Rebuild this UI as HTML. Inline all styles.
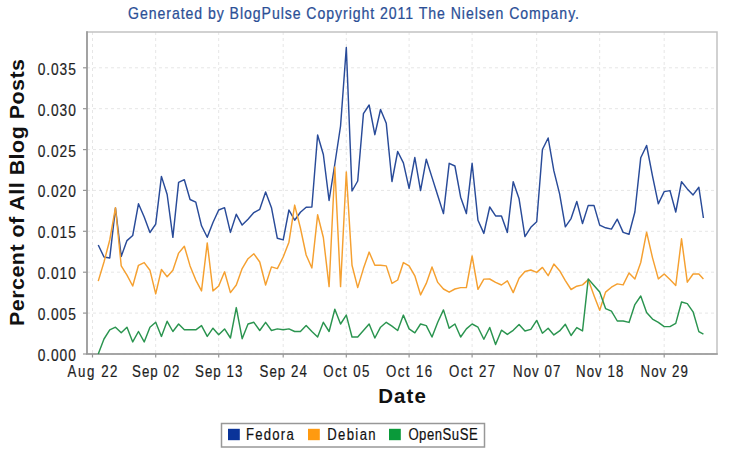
<!DOCTYPE html>
<html><head><meta charset="utf-8"><style>
html,body{margin:0;padding:0;background:#fff;width:734px;height:456px;overflow:hidden}
svg{display:block}
.g{stroke:#e6e6e6;stroke-width:1;stroke-dasharray:3 3;fill:none}
.s{fill:none;stroke-width:1.45;stroke-linejoin:round;stroke-linecap:butt}
text{font-family:"Liberation Sans",sans-serif}
.t{font-size:16px;fill:#1e1e1e;stroke:#1e1e1e;stroke-width:0.2}
.title{font-size:16px;fill:#2b4f96;stroke:#2b4f96;stroke-width:0.25}
.al{font-size:19.5px;font-weight:bold;fill:#111}
.lg{font-size:16px;fill:#111;stroke:#111;stroke-width:0.2}
</style></head><body>
<svg width="734" height="456" viewBox="0 0 734 456">
<line x1="87.0" y1="354.0" x2="717.0" y2="354.0" class="g"/>
<line x1="87.0" y1="313.1" x2="717.0" y2="313.1" class="g"/>
<line x1="87.0" y1="272.2" x2="717.0" y2="272.2" class="g"/>
<line x1="87.0" y1="231.3" x2="717.0" y2="231.3" class="g"/>
<line x1="87.0" y1="190.4" x2="717.0" y2="190.4" class="g"/>
<line x1="87.0" y1="149.6" x2="717.0" y2="149.6" class="g"/>
<line x1="87.0" y1="108.7" x2="717.0" y2="108.7" class="g"/>
<line x1="87.0" y1="67.8" x2="717.0" y2="67.8" class="g"/>
<line x1="92.5" y1="32.0" x2="92.5" y2="354.0" class="g"/>
<line x1="155.7" y1="32.0" x2="155.7" y2="354.0" class="g"/>
<line x1="218.7" y1="32.0" x2="218.7" y2="354.0" class="g"/>
<line x1="283.2" y1="32.0" x2="283.2" y2="354.0" class="g"/>
<line x1="346.3" y1="32.0" x2="346.3" y2="354.0" class="g"/>
<line x1="409.1" y1="32.0" x2="409.1" y2="354.0" class="g"/>
<line x1="472.1" y1="32.0" x2="472.1" y2="354.0" class="g"/>
<line x1="536.7" y1="32.0" x2="536.7" y2="354.0" class="g"/>
<line x1="599.7" y1="32.0" x2="599.7" y2="354.0" class="g"/>
<line x1="664.2" y1="32.0" x2="664.2" y2="354.0" class="g"/>
<rect x="87.0" y="32.0" width="630.0" height="322.0" fill="none" stroke="#c2c2c2" stroke-width="1.5"/>
<line x1="87.0" y1="31.25" x2="87.0" y2="354.0" stroke="#979797" stroke-width="1.6"/>
<line x1="86.2" y1="354.0" x2="717.75" y2="354.0" stroke="#979797" stroke-width="1.6"/>
<line x1="83" y1="354.0" x2="87.0" y2="354.0" stroke="#979797" stroke-width="1.2"/>
<text transform="scale(0.86,1)" x="43.95" y="361.0" class="t" textLength="44.19" lengthAdjust="spacing">0.000</text>
<line x1="83" y1="313.1" x2="87.0" y2="313.1" stroke="#979797" stroke-width="1.2"/>
<text transform="scale(0.86,1)" x="43.95" y="320.1" class="t" textLength="44.19" lengthAdjust="spacing">0.005</text>
<line x1="83" y1="272.2" x2="87.0" y2="272.2" stroke="#979797" stroke-width="1.2"/>
<text transform="scale(0.86,1)" x="43.95" y="279.2" class="t" textLength="44.19" lengthAdjust="spacing">0.010</text>
<line x1="83" y1="231.3" x2="87.0" y2="231.3" stroke="#979797" stroke-width="1.2"/>
<text transform="scale(0.86,1)" x="43.95" y="238.3" class="t" textLength="44.19" lengthAdjust="spacing">0.015</text>
<line x1="83" y1="190.4" x2="87.0" y2="190.4" stroke="#979797" stroke-width="1.2"/>
<text transform="scale(0.86,1)" x="43.95" y="197.4" class="t" textLength="44.19" lengthAdjust="spacing">0.020</text>
<line x1="83" y1="149.6" x2="87.0" y2="149.6" stroke="#979797" stroke-width="1.2"/>
<text transform="scale(0.86,1)" x="43.95" y="156.6" class="t" textLength="44.19" lengthAdjust="spacing">0.025</text>
<line x1="83" y1="108.7" x2="87.0" y2="108.7" stroke="#979797" stroke-width="1.2"/>
<text transform="scale(0.86,1)" x="43.95" y="115.7" class="t" textLength="44.19" lengthAdjust="spacing">0.030</text>
<line x1="83" y1="67.8" x2="87.0" y2="67.8" stroke="#979797" stroke-width="1.2"/>
<text transform="scale(0.86,1)" x="43.95" y="74.8" class="t" textLength="44.19" lengthAdjust="spacing">0.035</text>
<line x1="92.5" y1="354.0" x2="92.5" y2="357.5" stroke="#979797" stroke-width="1.2"/>
<text transform="scale(0.83,1)" x="81.33" y="376.8" class="t" textLength="60.24" lengthAdjust="spacing">Aug 22</text>
<line x1="155.7" y1="354.0" x2="155.7" y2="357.5" stroke="#979797" stroke-width="1.2"/>
<text transform="scale(0.83,1)" x="159.10" y="376.8" class="t" textLength="56.99" lengthAdjust="spacing">Sep 02</text>
<line x1="218.7" y1="354.0" x2="218.7" y2="357.5" stroke="#979797" stroke-width="1.2"/>
<text transform="scale(0.83,1)" x="235.00" y="376.8" class="t" textLength="56.99" lengthAdjust="spacing">Sep 13</text>
<line x1="283.2" y1="354.0" x2="283.2" y2="357.5" stroke="#979797" stroke-width="1.2"/>
<text transform="scale(0.83,1)" x="312.71" y="376.8" class="t" textLength="56.99" lengthAdjust="spacing">Sep 24</text>
<line x1="346.3" y1="354.0" x2="346.3" y2="357.5" stroke="#979797" stroke-width="1.2"/>
<text transform="scale(0.83,1)" x="389.52" y="376.8" class="t" textLength="55.42" lengthAdjust="spacing">Oct 05</text>
<line x1="409.1" y1="354.0" x2="409.1" y2="357.5" stroke="#979797" stroke-width="1.2"/>
<text transform="scale(0.83,1)" x="465.18" y="376.8" class="t" textLength="55.42" lengthAdjust="spacing">Oct 16</text>
<line x1="472.1" y1="354.0" x2="472.1" y2="357.5" stroke="#979797" stroke-width="1.2"/>
<text transform="scale(0.83,1)" x="541.08" y="376.8" class="t" textLength="55.42" lengthAdjust="spacing">Oct 27</text>
<line x1="536.7" y1="354.0" x2="536.7" y2="357.5" stroke="#979797" stroke-width="1.2"/>
<text transform="scale(0.83,1)" x="618.19" y="376.8" class="t" textLength="56.87" lengthAdjust="spacing">Nov 07</text>
<line x1="599.7" y1="354.0" x2="599.7" y2="357.5" stroke="#979797" stroke-width="1.2"/>
<text transform="scale(0.83,1)" x="694.10" y="376.8" class="t" textLength="56.87" lengthAdjust="spacing">Nov 18</text>
<line x1="664.2" y1="354.0" x2="664.2" y2="357.5" stroke="#979797" stroke-width="1.2"/>
<text transform="scale(0.83,1)" x="771.81" y="376.8" class="t" textLength="56.87" lengthAdjust="spacing">Nov 29</text>
<polyline points="98.25,245.0 103.99,257.0 109.74,258.0 115.48,208.0 121.23,256.4 126.97,240.6 132.72,235.5 138.46,203.8 144.21,217.0 149.95,232.5 155.70,224.1 161.43,176.4 167.15,194.5 172.88,237.3 178.61,182.4 184.34,179.7 190.06,199.5 195.79,202.1 201.52,225.8 207.25,237.3 212.97,222.5 218.70,210.0 224.56,207.7 230.43,232.4 236.29,214.3 242.15,225.1 248.02,219.2 253.88,212.6 259.75,209.3 265.61,191.9 271.47,207.7 277.34,238.3 283.20,239.9 288.94,210.0 294.67,220.2 300.41,212.3 306.15,207.3 311.88,207.0 317.62,135.0 323.35,154.5 329.09,200.5 334.83,164.0 340.56,126.0 346.30,47.5 352.01,191.0 357.72,181.0 363.43,113.7 369.14,105.0 374.85,134.7 380.55,109.5 386.26,123.3 391.97,181.5 397.68,151.5 403.39,162.8 409.10,188.3 414.83,157.5 420.55,190.6 426.28,159.2 432.01,177.4 437.74,195.5 443.46,213.6 449.19,163.3 454.92,166.0 460.65,197.2 466.37,213.6 472.10,163.3 477.97,220.2 483.85,233.4 489.72,207.0 495.59,215.9 501.46,215.9 507.34,232.4 513.21,181.7 519.08,198.8 524.95,236.6 530.83,227.3 536.70,221.8 542.43,149.5 548.15,138.0 553.88,170.9 559.61,193.9 565.34,226.8 571.06,218.6 576.79,201.4 582.52,223.5 588.25,205.4 593.97,205.4 599.70,225.1 605.56,227.8 611.43,229.1 617.29,219.2 623.15,232.4 629.02,234.3 634.88,212.0 640.75,157.7 646.61,145.5 652.47,175.8 658.34,203.8 664.20,191.6 669.98,190.6 675.75,212.0 681.53,181.7 687.30,188.9 693.08,194.9 698.85,187.3 703.42,218.0" class="s" stroke="#294b99"/>
<polyline points="98.25,281.1 103.99,262.0 109.74,240.0 115.48,207.7 121.23,265.9 126.97,275.1 132.72,286.0 138.46,265.3 144.21,262.6 149.95,270.2 155.70,293.9 161.43,269.5 167.15,276.8 172.88,270.2 178.61,253.1 184.34,246.2 190.06,265.9 195.79,280.1 201.52,290.9 207.25,242.9 212.97,290.9 218.70,286.0 224.56,271.8 230.43,292.6 236.29,285.0 242.15,268.6 248.02,258.7 253.88,253.8 259.75,262.0 265.61,285.0 271.47,266.9 277.34,268.6 283.20,257.0 288.94,242.2 294.67,205.1 300.41,228.0 306.15,255.0 311.88,268.0 317.62,214.8 323.35,237.5 329.09,286.6 334.83,167.0 340.56,286.6 346.30,172.0 352.01,265.3 357.72,287.6 363.43,268.6 369.14,252.1 374.85,265.3 380.55,265.3 386.26,265.9 391.97,283.4 397.68,280.0 403.39,262.6 409.10,265.9 414.83,275.8 420.55,294.9 426.28,283.4 432.01,266.9 437.74,282.4 443.46,289.0 449.19,292.2 454.92,289.0 460.65,287.6 466.37,287.6 472.10,256.0 477.97,289.3 483.85,279.1 489.72,279.0 495.59,282.3 501.46,285.0 507.34,280.8 513.21,292.6 519.08,278.3 524.95,271.5 530.83,270.0 536.70,272.4 542.43,267.4 548.15,275.7 553.88,264.1 559.61,270.7 565.34,280.6 571.06,289.5 576.79,286.2 582.52,284.9 588.25,279.6 593.97,295.4 599.70,310.2 605.56,292.1 611.43,287.2 617.29,283.9 623.15,284.9 629.02,273.0 634.88,278.9 640.75,262.5 646.61,232.2 652.47,257.6 658.34,278.9 664.20,274.0 669.98,279.6 675.75,285.5 681.53,238.8 687.30,282.2 693.08,274.0 698.85,274.0 703.42,278.9" class="s" stroke="#f5a030"/>
<polyline points="98.25,354.0 103.99,339.0 109.74,329.8 115.48,327.2 121.23,332.8 126.97,327.2 132.72,341.9 138.46,331.5 144.21,341.9 149.95,327.2 155.70,322.3 161.43,336.4 167.15,321.3 172.88,331.5 178.61,324.0 184.34,329.8 190.06,329.8 195.79,329.8 201.52,325.6 207.25,336.4 212.97,328.2 218.70,334.7 224.56,328.9 230.43,338.0 236.29,307.6 242.15,338.7 248.02,324.0 253.88,322.3 259.75,330.5 265.61,322.3 271.47,330.5 277.34,328.9 283.20,329.8 288.94,328.9 294.67,331.5 300.41,331.5 306.15,325.6 311.88,331.5 317.62,337.0 323.35,322.3 329.09,331.5 334.83,309.2 340.56,324.0 346.30,315.1 352.01,337.0 357.72,337.0 363.43,330.5 369.14,324.0 374.85,338.0 380.55,327.2 386.26,322.3 391.97,326.2 397.68,330.5 403.39,315.1 409.10,328.9 414.83,332.8 420.55,324.0 426.28,325.6 432.01,337.0 437.74,322.3 443.46,309.9 449.19,328.2 454.92,324.0 460.65,337.0 466.37,328.9 472.10,324.0 477.97,327.2 483.85,339.3 489.72,327.5 495.59,344.6 501.46,330.2 507.34,334.4 513.21,330.3 519.08,324.5 524.95,331.0 530.83,329.4 536.70,320.4 542.43,333.2 548.15,328.3 553.88,334.9 559.61,330.9 565.34,324.3 571.06,335.5 576.79,327.6 582.52,330.9 588.25,278.9 593.97,285.5 599.70,292.1 605.56,308.6 611.43,311.2 617.29,321.0 623.15,321.0 629.02,322.4 634.88,304.6 640.75,296.0 646.61,312.5 652.47,319.1 658.34,322.4 664.20,326.6 669.98,326.6 675.75,323.4 681.53,302.0 687.30,303.6 693.08,311.8 698.85,331.6 703.42,334.2" class="s" stroke="#2a944f"/>
<text transform="scale(0.88,1)" x="145.45" y="18.6" class="title" textLength="512.50" lengthAdjust="spacing">Generated by BlogPulse Copyright 2011 The Nielsen Company.</text>
<text transform="scale(1.05,1)" x="360.29" y="402.7" class="al" textLength="45.24" lengthAdjust="spacing">Date</text>
<g transform="translate(24,326) rotate(-90)"><text transform="scale(1.1,1)" x="0.00" y="0" class="al" textLength="242.73" lengthAdjust="spacing">Percent of All Blog Posts</text></g>
<rect x="221.5" y="423.5" width="263" height="23.5" fill="#fff" stroke="#989898" stroke-width="1.5"/>
<rect x="228" y="428.8" width="11.8" height="11.4" fill="#0a3399"/>
<text transform="scale(0.82,1)" x="300.00" y="440.2" class="lg" textLength="58.17" lengthAdjust="spacing">Fedora</text>
<rect x="308" y="428.8" width="11.8" height="11.4" fill="#ff9a10"/>
<text transform="scale(0.82,1)" x="399.02" y="440.2" class="lg" textLength="59.02" lengthAdjust="spacing">Debian</text>
<rect x="389" y="428.8" width="11.8" height="11.4" fill="#0a9a3a"/>
<text transform="scale(0.82,1)" x="498.05" y="440.2" class="lg" textLength="84.51" lengthAdjust="spacing">OpenSuSE</text>
</svg>
</body></html>
